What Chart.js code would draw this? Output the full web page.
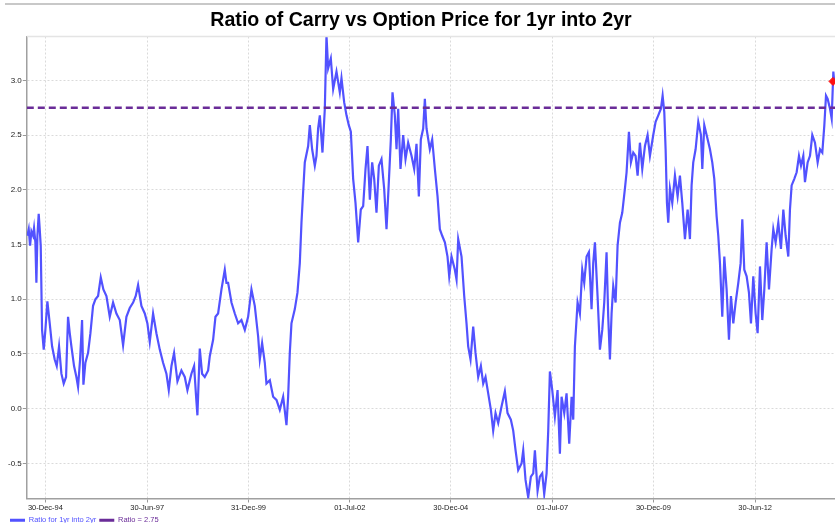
<!DOCTYPE html>
<html>
<head>
<meta charset="utf-8">
<title>Ratio of Carry vs Option Price</title>
<script src="https://cdn.jsdelivr.net/npm/chart.js@4.4.0/dist/chart.umd.min.js"></script>
<style>
body { margin: 0; background: #fff; overflow: hidden; }
#wrap { position: relative; width: 840px; height: 530px; }
#topline { position: absolute; left: 5px; top: 3px; width: 830px; height: 2px; background: #c8c8c8; }
</style>
</head>
<body>
<div id="wrap">
  <div id="topline"></div>
  <canvas id="chRatio"></canvas>
</div>
<script>
"use strict";

// dates as decimal years
const years = [
  1994.545,1994.578,1994.611,1994.644,1994.685,1994.709,1994.742,1994.767,1994.792,1994.824,
  1994.849,1994.874,1994.907,1994.948,1994.989,1995.038,1995.096,1995.154,1995.219,1995.269,
  1995.326,1995.384,1995.441,1995.499,1995.548,1995.590,1995.631,1995.696,1995.754,1995.795,
  1995.845,1995.894,1995.927,1995.976,1996.042,1996.100,1996.165,1996.223,1996.289,1996.355,
  1996.420,1996.495,1996.577,1996.659,1996.741,1996.824,1996.906,1996.988,1997.070,1997.153,
  1997.218,1997.276,1997.358,1997.441,1997.506,1997.564,1997.646,1997.728,1997.811,1997.893,
  1997.975,1998.033,1998.099,1998.164,1998.247,1998.345,1998.428,1998.493,1998.592,1998.658,
  1998.707,1998.740,1998.798,1998.855,1998.921,1999.004,1999.045,1999.127,1999.185,1999.250,
  1999.333,1999.415,1999.456,
  1999.497,1999.580,1999.662,1999.744,1999.826,1999.909,1999.991,2000.073,2000.155,2000.238,
  2000.279,2000.336,2000.402,2000.443,2000.526,2000.608,2000.690,2000.772,2000.855,2000.937,
  2000.978,2001.019,2001.060,2001.143,2001.208,2001.266,2001.307,2001.348,2001.389,2001.472,
  2001.513,2001.570,2001.636,2001.677,2001.718,2001.760,2001.825,2001.883,2001.924,2001.965,
  2002.031,2002.089,2002.171,2002.253,2002.294,2002.360,2002.418,2002.475,2002.525,2002.582,
  2002.640,2002.706,2002.771,2002.829,2002.887,2002.936,2002.994,2003.051,2003.101,2003.158,
  2003.216,2003.281,2003.347,2003.405,2003.462,2003.512,2003.553,2003.610,2003.652,2003.693,
  2003.750,2003.816,2003.874,2003.939,2004.022,2004.088,2004.145,2004.203,2004.252,2004.310,
  2004.351,2004.392,
  2004.474,2004.532,2004.598,2004.664,2004.721,2004.779,2004.845,2004.910,2004.952,2005.009,
  2005.091,2005.133,2005.174,2005.256,2005.322,2005.379,2005.420,2005.478,2005.544,2005.601,
  2005.667,2005.733,2005.791,2005.848,2005.914,2005.980,2006.037,2006.095,2006.161,2006.243,
  2006.325,2006.391,2006.473,2006.531,2006.589,2006.654,2006.737,2006.778,2006.835,2006.901,
  2006.967,2007.025,2007.066,2007.132,2007.189,2007.247,2007.296,2007.354,2007.395,2007.436,
  2007.494,2007.559,2007.625,2007.683,2007.724,2007.790,2007.847,2007.913,2007.971,2008.012,
  2008.053,2008.119,2008.176,2008.234,2008.283,2008.341,2008.398,2008.464,2008.505,2008.547,
  2008.612,2008.670,2008.728,2008.777,2008.834,2008.875,2008.917,2008.958,2008.999,2009.057,
  2009.106,2009.164,2009.221,2009.287,
  2009.328,2009.386,2009.435,2009.493,2009.550,2009.600,2009.657,2009.715,2009.781,2009.846,
  2009.904,2009.986,2010.044,2010.110,2010.175,2010.217,2010.258,2010.291,2010.324,2010.356,
  2010.398,2010.455,2010.521,2010.587,2010.644,2010.702,2010.768,2010.834,2010.891,2010.932,
  2010.973,2011.031,2011.097,2011.163,2011.196,2011.245,2011.303,2011.385,2011.442,2011.492,
  2011.549,2011.590,2011.632,2011.689,2011.739,2011.796,2011.854,2011.903,2011.961,2012.018,
  2012.084,2012.142,2012.183,2012.232,2012.290,2012.347,2012.397,2012.454,2012.512,2012.561,
  2012.619,2012.676,2012.726,2012.783,2012.841,2012.907,2012.948,2013.005,2013.071,2013.137,
  2013.195,2013.252,2013.318,2013.359,2013.400,2013.466,2013.524,2013.581,2013.631,2013.688,
  2013.729,2013.795,2013.853,2013.910,2013.976,2014.042,2014.100,2014.157,2014.207,2014.248,
  2014.289,2014.347,2014.388,2014.429,2014.453
];

const ratio = [
  1.58,1.64,1.49,1.62,1.58,1.65,1.52,1.15,1.58,1.78,
  1.64,1.49,0.72,0.54,0.72,0.98,0.78,0.57,0.45,0.39,
  0.57,0.32,0.23,0.29,0.84,0.69,0.57,0.39,0.29,0.20,
  0.45,0.81,0.22,0.42,0.51,0.69,0.94,1.00,1.03,1.20,
  1.09,1.03,0.84,0.97,0.87,0.81,0.58,0.84,0.92,0.97,
  1.03,1.13,0.94,0.87,0.78,0.61,0.87,0.69,0.54,0.42,
  0.32,0.17,0.39,0.51,0.25,0.35,0.29,0.17,0.32,0.39,
  0.11,-0.06,0.55,0.32,0.29,0.35,0.48,0.63,0.84,0.87,
  1.09,1.27,1.15,
  1.15,0.97,0.87,0.78,0.81,0.72,0.84,1.09,0.94,0.66,
  0.45,0.60,0.42,0.23,0.26,0.11,0.08,-0.01,0.11,-0.15,
  0.11,0.51,0.78,0.91,1.06,1.33,1.70,1.98,2.25,2.40,
  2.59,2.37,2.22,2.31,2.56,2.68,2.34,2.74,3.41,3.11,
  3.20,2.92,3.08,2.89,3.02,2.80,2.68,2.59,2.53,2.10,
  1.88,1.52,1.82,1.85,2.19,2.40,1.91,2.25,2.10,1.79,
  2.22,2.28,2.01,1.64,2.07,2.46,2.89,2.68,2.37,2.74,
  2.19,2.50,2.28,2.43,2.31,2.19,2.42,1.94,2.46,2.56,
  2.83,2.56,
  2.37,2.46,2.19,1.94,1.64,1.58,1.52,1.39,1.21,1.39,
  1.27,1.18,1.55,1.39,1.03,0.78,0.57,0.45,0.75,0.51,
  0.29,0.39,0.23,0.29,0.14,-0.01,-0.20,-0.04,-0.13,0.02,
  0.16,-0.04,-0.10,-0.20,-0.38,-0.56,-0.50,-0.38,-0.65,-0.81,
  -0.62,-0.59,-0.38,-0.75,-0.62,-0.59,-0.78,-0.59,-0.20,0.34,
  0.17,-0.07,0.17,-0.41,0.11,-0.04,0.14,-0.32,0.11,-0.10,
  0.57,0.97,0.87,1.27,1.15,1.39,1.43,0.91,1.33,1.52,
  1.03,0.54,0.72,0.97,1.43,0.84,0.45,0.87,1.12,0.97,
  1.49,1.70,1.79,2.01,
  2.16,2.53,2.25,2.34,2.31,2.13,2.43,2.19,2.40,2.50,
  2.31,2.50,2.62,2.68,2.74,2.86,2.71,2.37,1.88,1.70,
  2.01,1.88,2.13,1.94,2.13,1.88,1.55,1.82,1.55,2.04,
  2.25,2.37,2.62,2.50,2.19,2.59,2.50,2.37,2.25,2.10,
  1.76,1.58,1.33,0.84,1.39,1.09,0.63,1.03,0.78,0.97,
  1.15,1.33,1.73,1.27,1.21,1.06,0.78,1.21,0.87,0.69,
  1.30,0.81,1.09,1.52,1.09,1.46,1.64,1.52,1.70,1.46,
  1.82,1.58,1.39,1.82,2.04,2.10,2.16,2.31,2.22,2.31,
  2.07,2.25,2.31,2.50,2.43,2.25,2.37,2.34,2.59,2.86,
  2.83,2.74,2.65,3.08,2.98
];

const ratioLevel = 2.75;
const latestPoint = [{ x: 2014.42, y: 2.99 }];

const xRange = [1994.53, 2014.47];
const yRange = [-0.82, 3.40];

const tickYears = [1994.99, 1997.50, 2000.00, 2002.50, 2004.99, 2007.50, 2009.99, 2012.50];
const tickLabels = ['30-Dec-94', '30-Jun-97', '31-Dec-99', '01-Jul-02', '30-Dec-04', '01-Jul-07', '30-Dec-09', '30-Jun-12'];
const yTicks = [-0.5, 0.0, 0.5, 1.0, 1.5, 2.0, 2.5, 3.0];

Chart.defaults.font.family = 'Arial, "Liberation Sans", sans-serif';

// light border along top of plot area
const topBorder = {
  id: 'topBorder',
  afterDraw(chart) {
    const a = chart.chartArea;
    const ctx = chart.ctx;
    ctx.save();
    ctx.strokeStyle = '#e4e4e4';
    ctx.lineWidth = 1.5;
    ctx.beginPath();
    ctx.moveTo(a.left, a.top);
    ctx.lineTo(a.right, a.top);
    ctx.stroke();
    ctx.restore();
  }
};

function setChartRatio() {
  const el = document.getElementById('chRatio');

  const data = {
    datasets: [
      {
        label: 'Ratio for 1yr into 2yr',
        data: years.map((x, i) => ({ x: x, y: ratio[i] })),
        borderColor: '#5252ff',
        borderWidth: 2.2,
        pointRadius: 0,
        tension: 0,
        order: 2
      },
      {
        label: 'Ratio = 2.75',
        data: xRange.map(x => ({ x: x, y: ratioLevel })),
        borderColor: '#6a2c98',
        borderWidth: 2.5,
        borderDash: [7, 4],
        pointRadius: 0,
        order: 1
      },
      {
        label: 'latest',
        data: latestPoint,
        showLine: false,
        pointStyle: 'rectRot',
        pointRadius: 4,
        pointBackgroundColor: '#ff1010',
        pointBorderColor: '#ff1010',
        order: 0
      }
    ]
  };

  const options = {
    responsive: true,
    maintainAspectRatio: false,
    animation: false,
    layout: { padding: { left: 7, right: 5, top: 0, bottom: -4 } },
    plugins: {
      title: {
        display: true,
        text: 'Ratio of Carry vs Option Price for 1yr into 2yr',
        color: '#000',
        font: { size: 19.6, weight: 'bold' },
        padding: { top: 9, bottom: 4 }
      },
      legend: {
        position: 'bottom',
        align: 'start',
        labels: {
          boxWidth: 15,
          boxHeight: 0,
          padding: 3,
          font: { size: 7.5 },
          generateLabels: chart => chart.data.datasets.slice(0, 2).map((ds, i) => ({
            text: ds.label,
            fillStyle: 'transparent',
            strokeStyle: ds.borderColor,
            lineWidth: 3,
            lineDash: ds.borderDash ? [3, 2] : [],
            fontColor: ds.borderColor,
            hidden: false,
            datasetIndex: i
          }))
        }
      },
      tooltip: { enabled: false }
    },
    scales: {
      x: {
        type: 'linear',
        min: xRange[0],
        max: xRange[1],
        afterBuildTicks: s => { s.ticks = tickYears.map(v => ({ value: v })); },
        ticks: {
          autoSkip: false,
          maxRotation: 0,
          padding: 1,
          color: '#222',
          font: { size: 7.5 },
          callback: (v, i) => tickLabels[i]
        },
        grid: { color: '#dadada', tickColor: '#999', tickLength: 4 },
        border: { color: '#a0a0a0', width: 1.5, dash: [2, 2] }
      },
      y: {
        min: yRange[0],
        max: yRange[1],
        afterBuildTicks: s => { s.ticks = yTicks.map(v => ({ value: v })); },
        ticks: {
          padding: 1,
          color: '#222',
          font: { size: 8 },
          callback: v => v.toFixed(1)
        },
        grid: { color: '#dadada', tickColor: '#999', tickLength: 4 },
        border: { color: '#a0a0a0', width: 1.5, dash: [2, 2] }
      }
    }
  };

  new Chart(el, { type: 'line', data: data, options: options, plugins: [topBorder] });
}

setChartRatio();
</script>
</body>
</html>
